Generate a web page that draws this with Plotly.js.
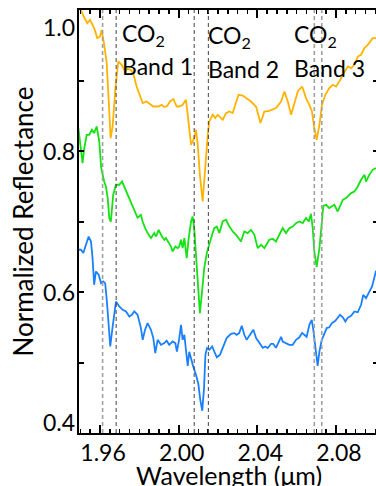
<!DOCTYPE html>
<html>
<head>
<meta charset="utf-8">
<script src="https://cdn.plot.ly/plotly-3.0.1.min.js"></script>
<style>
html,body{margin:0;padding:0;overflow:hidden;background:#fff;}
#chart{width:378px;height:486px;}
</style>
</head>
<body>
<div id="chart"></div>
<script>
// Orange spectrum (top)
const wlOrange = [1.9493,1.9506,1.9518,1.9535,1.9549,1.9570,1.9586,1.9600,1.9608,1.9620,1.9634,1.9644,1.9654,1.9664,1.9679,1.9693,1.9710,1.9727,1.9739,1.9756,1.9769,1.9786,1.9801,1.9817,1.9837,1.9854,1.9871,1.9896,1.9914,1.9925,1.9939,1.9956,1.9973,1.9990,2.0003,2.0020,2.0037,2.0046,2.0063,2.0079,2.0088,2.0097,2.0108,2.0122,2.0135,2.0148,2.0156,2.0173,2.0186,2.0199,2.0224,2.0241,2.0258,2.0275,2.0288,2.0305,2.0326,2.0343,2.0368,2.0394,2.0416,2.0436,2.0461,2.0495,2.0521,2.0538,2.0555,2.0572,2.0588,2.0606,2.0628,2.0648,2.0665,2.0678,2.0690,2.0702,2.0716,2.0729,2.0746,2.0766,2.0784,2.0801,2.0817,2.0835,2.0860,2.0877,2.0894,2.0911,2.0928,2.0945,2.0962,2.0987,2.1004];
const reflOrange = [1.0031,0.9979,0.9904,0.9814,0.9861,0.9743,0.9601,0.9624,0.9719,0.9531,0.9247,0.8726,0.8183,0.8348,0.8915,0.9270,0.9223,0.9128,0.9166,0.9152,0.9105,0.8915,0.8797,0.8680,0.8702,0.8670,0.8631,0.8631,0.8655,0.8627,0.8631,0.8702,0.8736,0.8631,0.8631,0.8655,0.8726,0.8514,0.8088,0.8183,0.8301,0.8088,0.7662,0.7284,0.7804,0.8230,0.8419,0.8514,0.8467,0.8514,0.8443,0.8538,0.8560,0.8538,0.8655,0.8797,0.8787,0.8750,0.8702,0.8627,0.8396,0.8560,0.8570,0.8609,0.8702,0.8844,0.8702,0.8514,0.8655,0.8844,0.8915,0.8750,0.8655,0.8560,0.8325,0.8159,0.8372,0.8655,0.8797,0.8892,0.8939,0.8915,0.8986,0.9081,0.9199,0.9176,0.9223,0.9340,0.9365,0.9460,0.9506,0.9601,0.9601];

// Green spectrum (middle)
const wlGreen = [1.9490,1.9498,1.9511,1.9520,1.9532,1.9545,1.9559,1.9570,1.9583,1.9596,1.9606,1.9621,1.9630,1.9639,1.9647,1.9655,1.9667,1.9681,1.9698,1.9712,1.9723,1.9740,1.9757,1.9774,1.9791,1.9808,1.9817,1.9829,1.9842,1.9859,1.9876,1.9885,1.9898,1.9915,1.9927,1.9935,1.9949,1.9961,1.9969,1.9983,1.9995,2.0003,2.0012,2.0020,2.0029,2.0041,2.0051,2.0063,2.0071,2.0079,2.0088,2.0097,2.0108,2.0119,2.0130,2.0143,2.0156,2.0170,2.0181,2.0194,2.0207,2.0224,2.0241,2.0258,2.0275,2.0292,2.0317,2.0334,2.0351,2.0368,2.0385,2.0402,2.0419,2.0436,2.0461,2.0478,2.0495,2.0512,2.0529,2.0546,2.0563,2.0580,2.0597,2.0614,2.0631,2.0648,2.0662,2.0673,2.0682,2.0690,2.0702,2.0716,2.0728,2.0736,2.0750,2.0766,2.0792,2.0809,2.0835,2.0852,2.0877,2.0894,2.0911,2.0928,2.0945,2.0953,2.0970,2.0987,2.1004];
const reflGreen = [0.8325,0.8135,0.7828,0.8041,0.8230,0.8230,0.8301,0.8254,0.8348,0.8135,0.7758,0.7567,0.7497,0.7332,0.7048,0.6996,0.7379,0.7521,0.7521,0.7567,0.7497,0.7403,0.7284,0.7166,0.7053,0.7095,0.6996,0.6911,0.6836,0.6765,0.6836,0.6787,0.6882,0.6787,0.6741,0.6765,0.6694,0.6645,0.6575,0.6645,0.6623,0.6645,0.6741,0.6623,0.6765,0.6481,0.6765,0.7000,0.7071,0.6906,0.6528,0.6149,0.5701,0.6007,0.6339,0.6552,0.6694,0.6812,0.6906,0.6929,0.6836,0.7000,0.7024,0.6929,0.6858,0.6812,0.6716,0.6858,0.6836,0.6882,0.6812,0.6623,0.6670,0.6623,0.6741,0.6755,0.6716,0.6812,0.6906,0.6836,0.6906,0.6929,0.6977,0.7000,0.6977,0.7048,0.7000,0.7109,0.6906,0.6575,0.6358,0.6623,0.6953,0.7223,0.7237,0.7190,0.7237,0.7142,0.7308,0.7332,0.7403,0.7426,0.7497,0.7592,0.7662,0.7567,0.7662,0.7733,0.7758];

// Blue spectrum (bottom)
const wlBlue = [1.9489,1.9503,1.9515,1.9528,1.9542,1.9554,1.9562,1.9570,1.9579,1.9593,1.9605,1.9616,1.9626,1.9635,1.9644,1.9652,1.9661,1.9672,1.9681,1.9698,1.9715,1.9732,1.9749,1.9762,1.9774,1.9791,1.9808,1.9817,1.9829,1.9842,1.9859,1.9871,1.9881,1.9893,1.9910,1.9927,1.9939,1.9952,1.9969,1.9983,1.9991,2.0002,2.0012,2.0020,2.0029,2.0037,2.0046,2.0054,2.0063,2.0074,2.0088,2.0100,2.0110,2.0120,2.0129,2.0136,2.0144,2.0156,2.0170,2.0181,2.0194,2.0210,2.0228,2.0244,2.0266,2.0283,2.0295,2.0308,2.0321,2.0334,2.0346,2.0363,2.0380,2.0394,2.0410,2.0428,2.0441,2.0453,2.0470,2.0481,2.0495,2.0512,2.0521,2.0529,2.0546,2.0563,2.0580,2.0597,2.0614,2.0628,2.0639,2.0651,2.0665,2.0677,2.0685,2.0695,2.0707,2.0716,2.0728,2.0741,2.0753,2.0766,2.0780,2.0797,2.0809,2.0821,2.0835,2.0848,2.0860,2.0877,2.0894,2.0911,2.0928,2.0939,2.0953,2.0970,2.0984,2.1004];
const reflBlue = [0.6599,0.6599,0.6552,0.6670,0.6787,0.6716,0.6481,0.6102,0.6291,0.6244,0.6126,0.6149,0.6126,0.5865,0.5488,0.5227,0.5440,0.5677,0.5865,0.5795,0.5748,0.5724,0.5653,0.5677,0.5724,0.5677,0.5488,0.5322,0.5464,0.5559,0.5464,0.5346,0.5133,0.5322,0.5251,0.5275,0.5308,0.5251,0.5298,0.5275,0.5156,0.5322,0.5535,0.5322,0.5393,0.5181,0.4953,0.5152,0.5038,0.4943,0.4826,0.4698,0.4471,0.4315,0.4637,0.5109,0.5204,0.5181,0.5227,0.5156,0.5074,0.5109,0.5223,0.5346,0.5407,0.5417,0.5393,0.5417,0.5521,0.5393,0.5322,0.5393,0.5464,0.5346,0.5275,0.5209,0.5227,0.5204,0.5265,0.5265,0.5209,0.5322,0.5365,0.5298,0.5275,0.5251,0.5251,0.5322,0.5358,0.5421,0.5393,0.5365,0.5535,0.5606,0.5464,0.5204,0.4953,0.5156,0.5322,0.5407,0.5488,0.5499,0.5559,0.5592,0.5630,0.5677,0.5641,0.5582,0.5634,0.5663,0.5724,0.5712,0.5819,0.5960,0.5914,0.6007,0.6078,0.6301];

// CO2 band edges (µm) and labels
const bandEdges = [[1.9613, 1.9682], [2.0079, 2.0151], [2.0690, 2.0728]];
const bandLabels = ['Band 1', 'Band 2', 'Band 3'];
const bandLabelX = [1.9717, 2.0156, 2.0592];

// Axis ticks and titles
const xLabelVals = [1.96, 2.00, 2.04, 2.08];
const xLabelText = ['1.96', '2.00', '2.04', '2.08'];
const xMidTickVals = [1.98, 2.02, 2.06, 2.10];
const yTickVals = [0.4, 0.5, 0.6, 0.7, 0.8, 0.9, 1.0];
const yLabelVals = [0.4, 0.6, 0.8, 1.0];
const yLabelText = ['0.4', '0.6', '0.8', '1.0'];
const xTitle = 'Wavelength (μm)';
const yTitle = 'Normalized Reflectance';

const FONT = 'Lato, "Open Sans", sans-serif';

const traces = [
  {x: wlOrange, y: reflOrange, mode: 'lines', line: {color: '#FFB300', width: 1.8}, hoverinfo: 'skip'},
  {x: wlGreen, y: reflGreen, mode: 'lines', line: {color: '#14E214', width: 1.8}, hoverinfo: 'skip'},
  {x: wlBlue, y: reflBlue, mode: 'lines', line: {color: '#1A80FF', width: 1.8}, hoverinfo: 'skip'}
];

const lineStyles = [
  [{color: '#A0A0A0', width: 1.6}, {color: '#444444', width: 1}],
  [{color: '#444444', width: 1}, {color: '#444444', width: 1}],
  [{color: '#A0A0A0', width: 1.6}, {color: '#A0A0A0', width: 1.6}]
];

const shapes = [];
bandEdges.forEach((pair, i) => {
  pair.forEach((xv, j) => {
    shapes.push({type: 'line', xref: 'x', yref: 'paper', x0: xv, x1: xv, y0: 0, y1: 1,
      line: {color: lineStyles[i][j].color, width: lineStyles[i][j].width, dash: '4px,3px'}, layer: 'above'});
  });
});

const annotations = [];
const coY = [0.965, 0.962, 0.964];
const bandY = [0.921, 0.916, 0.918];
bandLabels.forEach((t, i) => {
  annotations.push({x: bandLabelX[i], y: coY[i], xref: 'x', yref: 'y', xanchor: 'left', yanchor: 'middle', xshift: -3,
    text: 'CO<sub>2</sub>', showarrow: false, font: {family: FONT, size: 23, color: '#000'}});
  annotations.push({x: bandLabelX[i], y: bandY[i], xref: 'x', yref: 'y', xanchor: 'left', yanchor: 'middle', xshift: -3,
    text: t, showarrow: false, font: {family: FONT, size: 23, color: '#000'}});
});
const yShift = {'0.4': 11, '1.0': -17};
yLabelVals.forEach((v, i) => {
  annotations.push({x: 0, xref: 'paper', y: v, yref: 'y', xanchor: 'right', yanchor: 'middle', xshift: -2,
    yshift: yShift[yLabelText[i]] || 0, text: yLabelText[i], showarrow: false,
    font: {family: FONT, size: 23, color: '#000'}});
});
// x axis title, placed just below the tick labels
annotations.push({x: 0.5, xref: 'paper', y: 0, yref: 'paper', xanchor: 'center', yanchor: 'middle', yshift: -42,
  text: xTitle, showarrow: false, font: {family: FONT, size: 25, color: '#000'}});

const xRange = [1.9493, 2.1014];

const layout = {
  width: 378, height: 486,
  margin: {l: 79, r: 0, t: 10, b: 53},
  paper_bgcolor: '#fff', plot_bgcolor: '#fff',
  showlegend: false,
  font: {family: FONT, color: '#000'},
  xaxis: {
    range: xRange, showgrid: false, zeroline: false,
    showline: true, linecolor: '#000', linewidth: 2, mirror: 'ticks',
    ticks: 'inside', ticklen: 8, tickwidth: 2, tickcolor: '#000',
    tickmode: 'array', tickvals: xLabelVals, ticktext: xLabelText,
    tickfont: {family: FONT, size: 23, color: '#000'}, ticklabelshift: 3, ticklabelstandoff: -2,
    minor: {tickmode: 'linear', tick0: 1.95, dtick: 0.005, ticks: 'inside', ticklen: 4, tickwidth: 1.5, tickcolor: '#000', showgrid: false}
  },
  xaxis2: {
    overlaying: 'x', matches: 'x', anchor: 'y', side: 'bottom',
    range: xRange, showgrid: false, zeroline: false, showline: false, mirror: 'ticks',
    ticks: 'inside', ticklen: 8, tickwidth: 2, tickcolor: '#000',
    tickmode: 'array', tickvals: xMidTickVals, showticklabels: false
  },
  yaxis: {
    range: [0.4, 1.0], showgrid: false, zeroline: false,
    showline: true, linecolor: '#000', linewidth: 2, mirror: 'ticks',
    ticks: 'inside', ticklen: 5, tickwidth: 2, tickcolor: '#000',
    tickmode: 'array', tickvals: yTickVals, showticklabels: false,
    title: {text: yTitle, font: {family: FONT, size: 26, color: '#000'}, standoff: 36}
  },
  shapes: shapes,
  annotations: annotations
};

Plotly.newPlot('chart', traces, layout, {displayModeBar: false, staticPlot: true});
</script>
</body>
</html>
